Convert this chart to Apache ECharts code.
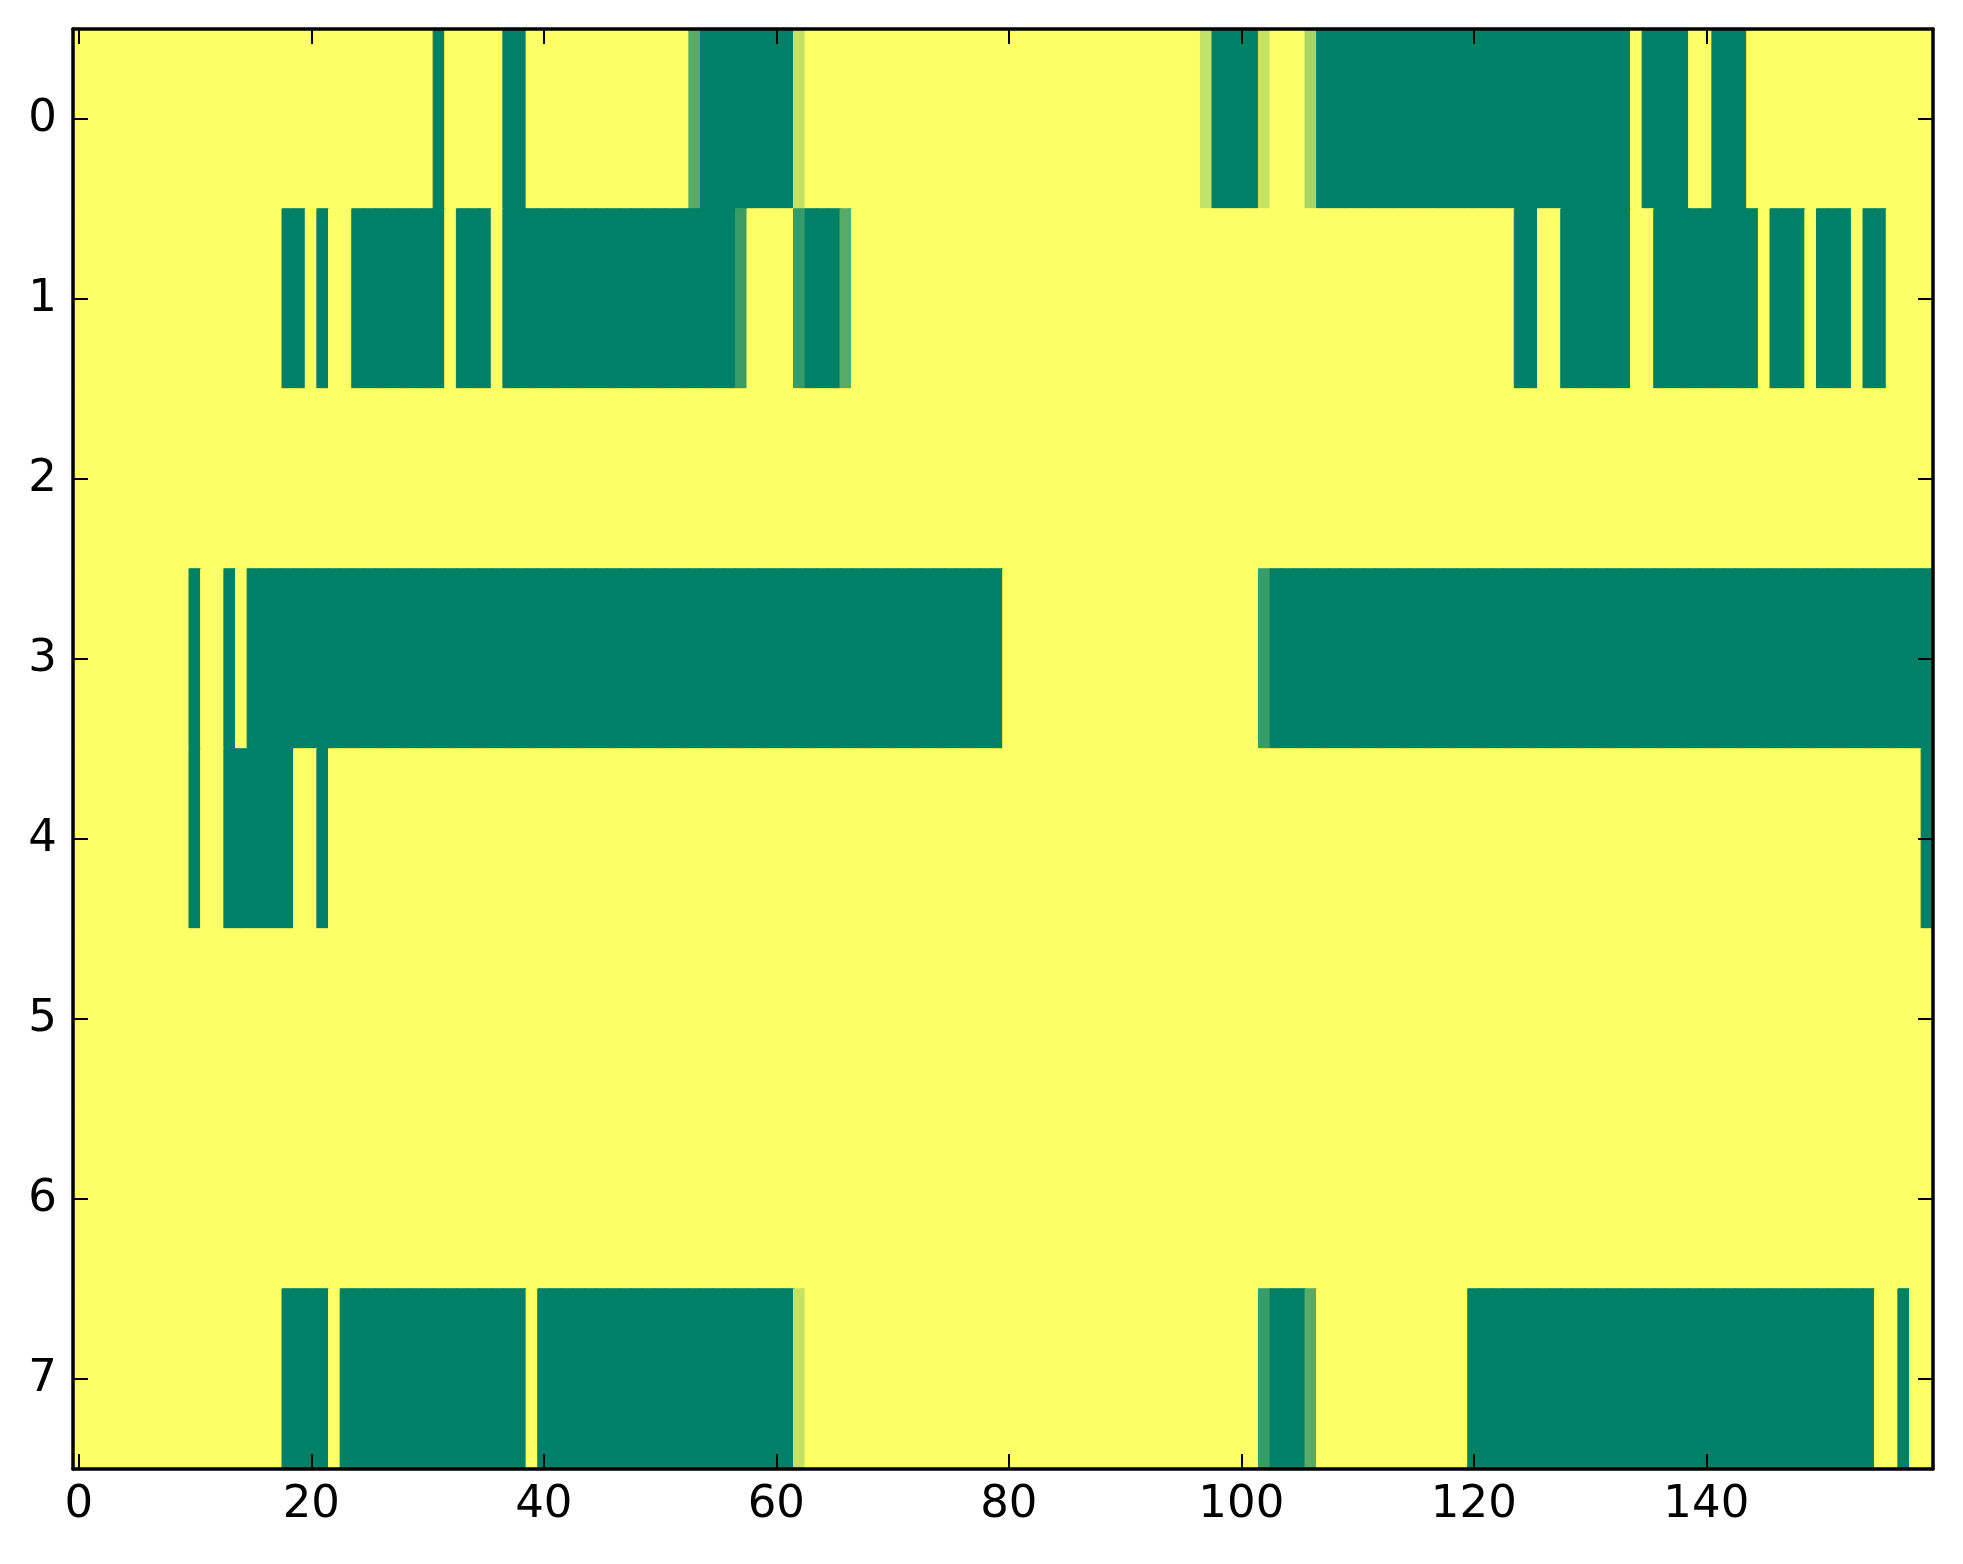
<!DOCTYPE html>
<html>
<head>
<meta charset="utf-8">
<script src="https://cdn.jsdelivr.net/npm/echarts@6/dist/echarts.min.js"></script>
<style>
  html, body { margin: 0; padding: 0; background: #fff; }
  #chart { width: 1963px; height: 1564px; }
</style>
</head>
<body>
<div id="chart"></div>
<script>
// grid size
var nCols = 160;
var rowLabels = ['0', '1', '2', '3', '4', '5', '6', '7'];

// runs per row: [firstCol, lastCol, value] (0 = green, 1 = yellow)
var row0 = [[0,30,1],[31,31,0],[32,36,1],[37,38,0],[39,52,1],[53,53,0.34],[54,61,0],[62,62,0.77],
  [63,96,1],[97,97,0.77],[98,101,0],[102,102,0.77],[103,105,1],[106,106,0.66],[107,133,0],
  [134,134,1],[135,138,0],[139,140,1],[141,143,0],[144,159,1]];
var row1 = [[0,17,1],[18,19,0],[20,20,1],[21,21,0],[22,23,1],[24,31,0],[32,32,1],[33,35,0],
  [36,36,1],[37,56,0],[57,57,0.22],[58,61,1],[62,62,0.22],[63,65,0],[66,66,0.34],[67,123,1],
  [124,125,0],[126,127,1],[128,133,0],[134,135,1],[136,144,0],[145,145,1],[146,148,0],
  [149,149,1],[150,152,0],[153,153,1],[154,155,0],[156,159,1]];
var row2 = [[0,159,1]];
var row3 = [[0,9,1],[10,10,0],[11,12,1],[13,13,0],[14,14,1],[15,79,0],[80,101,1],
  [102,102,0.22],[103,159,0]];
var row4 = [[0,9,1],[10,10,0],[11,12,1],[13,18,0],[19,20,1],[21,21,0],[22,158,1],[159,159,0]];
var row5 = [[0,159,1]];
var row6 = [[0,159,1]];
var row7 = [[0,17,1],[18,21,0],[22,22,1],[23,38,0],[39,39,1],[40,61,0],[62,62,0.77],
  [63,101,1],[102,102,0.22],[103,105,0],[106,106,0.34],[107,119,1],[120,154,0],
  [155,156,1],[157,157,0],[158,159,1]];

var rows = [row0, row1, row2, row3, row4, row5, row6, row7];
var cmap = ['#008066', '#ffff66']; // summer

var xCats = [];
for (var i = 0; i < nCols; i++) xCats.push(String(i));

// one cell per column; a thin border in the cell's own colour hides seams
var cells = [];
rows.forEach(function (runs, r) {
  runs.forEach(function (run) {
    for (var c = run[0]; c <= run[1]; c++) {
      cells.push({
        value: [c, r, run[2]],
        itemStyle: { borderColor: echarts.color.lerp(run[2], cmap), borderWidth: 1 }
      });
    }
  });
});

var font = 'DejaVu Sans';
var spine = { show: true, lineStyle: { color: '#000', width: 3.5 } };
function ticks(interval) {
  return { show: true, inside: true, alignWithLabel: true, interval: interval, length: 15,
           lineStyle: { color: '#000', width: 2 } };
}

var chart = echarts.init(document.getElementById('chart'));
chart.setOption({
  animation: false,
  backgroundColor: '#fff',
  grid: { left: 73, right: 30, top: 29, bottom: 95, containLabel: false },
  visualMap: { show: false, min: 0, max: 1, inRange: { color: cmap } },
  xAxis: [
    { type: 'category', data: xCats, position: 'bottom', axisLine: spine, axisTick: ticks(19),
      axisLabel: { interval: 19, fontSize: 45, color: '#000', fontFamily: font, margin: 14 },
      splitLine: { show: false }, z: 10 },
    { type: 'category', data: xCats, position: 'top', axisLine: spine, axisTick: ticks(19),
      axisLabel: { show: false }, splitLine: { show: false }, z: 10 }
  ],
  yAxis: [
    { type: 'category', data: rowLabels, inverse: true, position: 'left', axisLine: spine, axisTick: ticks(0),
      axisLabel: { interval: 0, fontSize: 45, color: '#000', fontFamily: font, margin: 16 },
      splitLine: { show: false }, z: 10 },
    { type: 'category', data: rowLabels, inverse: true, position: 'right', axisLine: spine, axisTick: ticks(0),
      axisLabel: { show: false }, splitLine: { show: false }, z: 10 }
  ],
  series: [{
    type: 'heatmap',
    xAxisIndex: 0,
    yAxisIndex: 0,
    data: cells,
    emphasis: { disabled: true },
    progressive: 0
  }]
});
</script>
</body>
</html>
